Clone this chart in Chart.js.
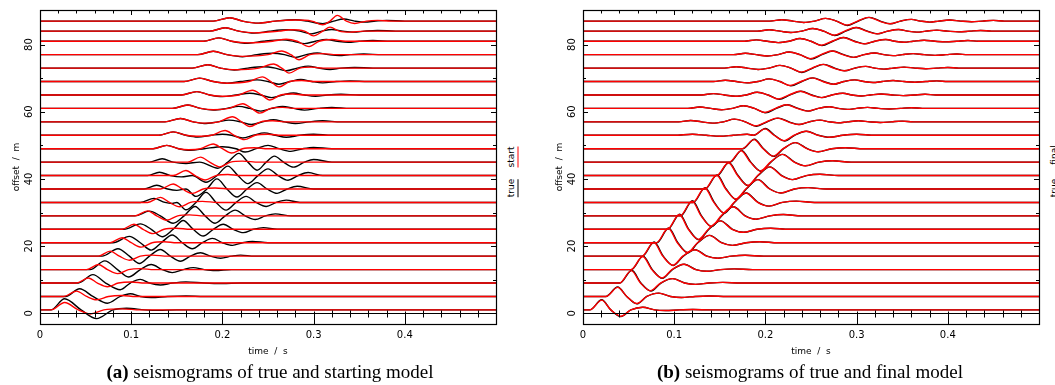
<!DOCTYPE html>
<html>
<head>
<meta charset="utf-8">
<script src="https://cdn.jsdelivr.net/npm/chart.js@4.4.0/dist/chart.umd.min.js"></script>
<style>
  body { margin: 0; background: #fff; width: 1055px; height: 385px; overflow: hidden; position: relative; }
  .panel { position: absolute; top: 0; width: 500px; height: 362px; }
  #pa { left: 0; }
  #pb { left: 543px; }
  .cap { position: absolute; top: 362px; font: 19px "Liberation Serif", serif; line-height: 19px; white-space: nowrap; transform: translateX(-50%); }
  .leg { position: absolute; font: 9px "DejaVu Sans", sans-serif; line-height: 10px; padding-bottom: 2px; transform: translate(-50%, -50%) rotate(-90deg); white-space: nowrap; }
</style>
</head>
<body>
<div class="panel" id="pa"><canvas id="ca" width="500" height="362"></canvas></div>
<div class="panel" id="pb"><canvas id="cb" width="500" height="362"></canvas></div>
<div class="leg" style="left:512px;top:157px;border-bottom:1.5px solid #f00">start</div>
<div class="leg" style="left:512px;top:188px;border-bottom:1.5px solid #000">true</div>
<div class="leg" style="left:1055px;top:155px;border-bottom:1.5px solid #f00">final</div>
<div class="leg" style="left:1055px;top:188px;border-bottom:1.5px solid #000">true</div>
<div class="cap" style="left:270px"><b>(a)</b> seismograms of true and starting model</div>
<div class="cap" style="left:810px"><b>(b)</b> seismograms of true and final model</div>
<script>
// receiver offsets (m), one trace each
const offsets = [1, 5, 9, 13, 17, 21, 25, 29, 33, 37, 41, 45, 49, 53, 57, 61, 65, 69, 73, 77, 81, 84, 87];

// key points of each trace as time (s), amplitude (m) pairs
const trueA = [
  [.012,0,.027,3.3,.045,0,.062,-2.6,.08,0,.095,.5,.115,0,.13,-.15,.15,0],
  [.028,0,.0435,2.3,.058,0,.074,-2,.088,0,.099,.8,.11,0,.122,-.3,.14,0,.16,.15,.18,0],
  [.042,0,.058,2.5,.072,0,.088,-2,.099,0,.11,1.1,.12,0,.132,-.6,.145,0,.16,.35,.18,0,.2,-.15,.22,0],
  [.055,0,.071,2.6,.085,0,.097,-2.2,.11,0,.122,1.5,.134,0,.145,-.9,.157,0,.168,.6,.18,0,.192,-.3,.21,0],
  [.068,0,.0855,2.2,.098,0,.109,-2.2,.12,0,.132,2,.143,0,.154,-1.5,.165,0,.176,1,.187,0,.198,-.6,.21,0,.22,.3,.235,0],
  [.08,0,.098,1.9,.11,0,.122,-2.2,.133,0,.145,2.3,.156,0,.167,-1.8,.178,0,.189,1.3,.2,0,.211,-.8,.222,0,.233,.4,.25,0],
  [.092,0,.11,1.6,.122,0,.134,-2.2,.146,0,.157,2.6,.168,0,.179,-2,.19,0,.201,1.5,.212,0,.223,-1,.234,0,.245,.5,.26,0],
  [.104,0,.12,1.4,.132,0,.146,-2.2,.158,0,.17,2.8,.181,0,.192,-2.2,.203,0,.214,1.7,.225,0,.236,-1.1,.247,0,.258,.6,.275,0],
  [.11,0,.125,1.2,.137,0,.145,-.3,.15,0,.16,-2.2,.171,0,.182,3,.193,0,.204,-2.3,.215,0,.226,1.8,.237,0,.248,-1.2,.259,0,.27,.7,.285,0],
  [.114,0,.128,1.1,.14,0,.15,-.4,.16,0,.171,-2.2,.183,0,.194,3,.205,0,.216,-2.4,.227,0,.238,1.9,.249,0,.26,-1.3,.271,0,.282,.8,.3,0],
  [.118,0,.131,1,.143,0,.155,-.4,.167,0,.182,-2,.194,0,.206,2.8,.217,0,.228,-2.4,.239,0,.25,2,.261,0,.272,-1.4,.283,0,.294,.9,.31,0],
  [.12,0,.134,1,.146,0,.16,-.4,.175,0,.195,-1.8,.206,0,.218,2.6,.228,0,.238,-2.4,.248,0,.257,1.8,.267,0,.278,-1.5,.29,0,.3,.8,.32,0],
  [.124,0,.139,1,.152,0,.165,-.5,.18,0,.2,.6,.215,0,.225,-1,.237,0,.25,1,.262,0,.275,-.8,.288,0,.3,.4,.32,0],
  [.13,0,.146,1,.16,0,.173,-.5,.188,0,.2,.3,.21,0,.222,-.8,.234,0,.246,.7,.258,0,.27,-.6,.285,0,.3,.3,.32,0],
  [.137,0,.154,1,.168,0,.18,-.5,.195,0,.207,.5,.22,0,.232,-.8,.244,0,.256,.6,.268,0,.28,-.5,.295,0,.31,.3,.33,0],
  [.145,0,.162,1,.176,0,.19,-.5,.205,0,.218,.6,.23,0,.242,-.8,.254,0,.266,.6,.278,0,.29,-.5,.305,0,.32,.3,.34,0],
  [.155,0,.172,1,.186,0,.2,-.5,.215,0,.23,.5,.242,0,.254,-.8,.266,0,.278,.6,.29,0,.302,-.4,.315,0,.33,.2,.35,0],
  [.158,0,.175,1,.19,0,.205,-.5,.22,0,.238,.5,.25,0,.262,-.8,.274,0,.286,.6,.298,0,.31,-.4,.325,0,.34,.2,.36,0],
  [.167,0,.184,1,.198,0,.213,-.6,.228,0,.245,.4,.258,0,.27,-.8,.282,0,.294,.6,.306,0,.318,-.4,.33,0,.345,.2,.365,0],
  [.173,0,.19,1,.205,0,.222,-.6,.238,0,.255,.4,.268,0,.28,-.8,.292,0,.304,.5,.316,0,.328,-.3,.34,0,.355,.2,.375,0],
  [.179,0,.196,1,.21,0,.228,-.6,.245,0,.265,.4,.278,0,.29,-.7,.302,0,.314,.5,.326,0,.338,-.3,.35,0,.365,.2,.385,0],
  [.186,0,.203,1,.218,0,.235,-.6,.252,0,.272,.4,.285,0,.297,-.8,.309,0,.32,.5,.332,0,.344,-.3,.356,0,.37,.2,.39,0],
  [.19,0,.208,1,.222,0,.24,-.6,.258,0,.28,.4,.293,0,.31,-.8,.322,0,.333,.6,.345,0,.356,-.3,.368,0,.38,.2,.4,0]
];
const startA = [
  [.012,0,.027,2.2,.042,0,.055,-1.2,.07,0,.09,.3,.11,0],
  [.026,0,.04,1.6,.051,0,.062,-1,.075,0,.09,.3,.105,0],
  [.04,0,.053,1.5,.063,0,.074,-1.1,.086,0,.1,.3,.115,0],
  [.051,0,.064,1.5,.074,0,.085,-1.2,.097,0,.11,.3,.125,0],
  [.064,0,.077,1.5,.087,0,.098,-1.2,.11,0,.123,.3,.14,0],
  [.077,0,.09,1.5,.1,0,.111,-1.3,.123,0,.136,.3,.15,0],
  [.09,0,.103,1.5,.113,0,.124,-1.3,.136,0,.149,.3,.165,0],
  [.104,0,.118,1.5,.128,0,.139,-1.3,.151,0,.164,.3,.18,0],
  [.118,0,.132,1.5,.142,0,.153,-1.3,.165,0,.178,.3,.195,0],
  [.132,0,.146,1.5,.156,0,.167,-1.3,.179,0,.192,.3,.21,0],
  [.146,0,.16,1.5,.17,0,.181,-1.3,.193,0,.206,.3,.22,0],
  [.162,0,.176,1.5,.186,0,.197,-1.4,.209,0,.222,.3,.24,0],
  [.124,0,.139,1,.152,0,.163,-.3,.176,0,.19,1.4,.2,0,.21,-1.3,.222,0,.235,.3,.25,0],
  [.13,0,.146,1,.16,0,.172,-.3,.188,0,.203,1.4,.213,0,.224,-1.3,.236,0,.25,.3,.265,0],
  [.137,0,.154,1,.168,0,.18,-.4,.196,0,.211,1.5,.221,0,.23,-1.4,.242,0,.255,.3,.27,0],
  [.145,0,.162,1,.176,0,.19,-.4,.207,0,.2225,1.4,.232,0,.241,-1.4,.253,0,.266,.3,.28,0],
  [.155,0,.172,1,.186,0,.2,-.4,.218,0,.233,1.4,.243,0,.252,-1.5,.264,0,.277,.3,.29,0],
  [.158,0,.175,1,.19,0,.205,-.5,.229,0,.244,1.4,.253,0,.262,-1.6,.274,0,.287,.3,.3,0],
  [.167,0,.184,1,.198,0,.214,-.5,.24,0,.256,1.2,.265,0,.273,-1.5,.285,0,.298,.3,.31,0],
  [.173,0,.19,1,.205,0,.222,-.5,.25,0,.265,1.1,.275,0,.284,-1.5,.296,0,.31,.3,.325,0],
  [.179,0,.196,1,.21,0,.228,-.5,.255,0,.27,.6,.282,0,.295,-1.6,.306,0,.32,.5,.335,0],
  [.186,0,.203,1,.218,0,.235,-.5,.262,0,.275,.4,.29,0,.3,-1.4,.31,0,.318,1.2,.328,0,.34,-.3,.355,0],
  [.19,0,.208,1,.222,0,.24,-.6,.258,0,.28,.3,.298,0,.31,-1.1,.318,0,.326,1.7,.336,0,.345,-.7,.358,0,.37,.2,.385,0]
];
const trueB = [
  [.0075,0,.0205,3,.0305,0,.0415,-2,.0525,0,.0655,.8,.0785,0,.0905,-.2,.1055,0,.1205,.1,.14,0],
  [.025,0,.038,2.8,.048,0,.059,-2.2,.07,0,.083,1,.096,0,.108,-.3,.123,0,.138,.15,.158,0],
  [.0405,0,.0535,3.8,.0635,0,.0745,-2.4,.0855,0,.0985,1.3,.1115,0,.1235,-.4,.1385,0,.1535,.2,.1735,0],
  [.053,0,.066,4,.076,0,.087,-2.6,.098,0,.111,1.6,.124,0,.136,-.5,.151,0,.166,.2,.186,0],
  [.065,0,.078,4.2,.088,0,.099,-2.8,.11,0,.123,1.9,.136,0,.148,-.6,.163,0,.178,.25,.198,0],
  [.081,0,.094,4.4,.104,0,.115,-3,.126,0,.139,2.2,.152,0,.164,-.8,.179,0,.194,.3,.214,0],
  [.093,0,.106,4.5,.116,0,.127,-3.1,.138,0,.151,2.5,.164,0,.176,-.9,.191,0,.206,.3,.226,0],
  [.107,0,.12,4.5,.13,0,.141,-3.2,.152,0,.165,2.7,.178,0,.19,-1,.205,0,.22,.4,.24,0],
  [.121,0,.134,4.4,.144,0,.155,-3.2,.166,0,.179,2.8,.192,0,.204,-1.1,.219,0,.234,.4,.254,0],
  [.134,0,.147,4.2,.157,0,.168,-3.1,.179,0,.192,2.8,.205,0,.217,-1.2,.232,0,.247,.4,.267,0],
  [.147,0,.16,3.9,.17,0,.181,-3,.192,0,.205,2.6,.218,0,.23,-1.2,.245,0,.26,.4,.28,0],
  [.161,0,.174,3.5,.184,0,.195,-2.7,.206,0,.219,2.3,.232,0,.244,-1.1,.259,0,.274,.4,.294,0],
  [.175,0,.188,2.8,.198,0,.209,-2.3,.22,0,.233,1.8,.246,0,.258,-.9,.273,0,.288,.3,.308,0],
  [.1,0,.12,.3,.135,0,.15,-.3,.165,0,.18,.3,.187,0,.2,2,.21,0,.221,-1.7,.232,0,.245,1.2,.258,0,.27,-.6,.285,0,.3,.3,.32,0],
  [.105,0,.118,.4,.13,0,.142,-.4,.154,0,.166,.8,.178,0,.19,-1.3,.202,0,.214,1.1,.226,0,.237,-.8,.248,0,.26,.5,.27,0,.28,-.3,.29,0,.302,.3,.314,0,.326,-.2,.338,0,.35,.2,.362,0],
  [.115,0,.128,.4,.14,0,.152,-.4,.164,0,.176,.8,.188,0,.2,-1.3,.212,0,.224,1.1,.236,0,.247,-.8,.258,0,.27,.5,.28,0,.29,-.3,.3,0,.312,.3,.324,0,.336,-.2,.348,0,.36,.2,.372,0],
  [.13,0,.143,.4,.155,0,.167,-.4,.179,0,.191,.8,.203,0,.215,-1.3,.227,0,.239,1.1,.251,0,.262,-.8,.273,0,.285,.5,.295,0,.305,-.3,.315,0,.327,.3,.339,0,.351,-.2,.363,0,.375,.2,.387,0],
  [.143,0,.156,.4,.168,0,.18,-.4,.192,0,.204,.8,.216,0,.228,-1.3,.24,0,.252,1.1,.264,0,.275,-.8,.286,0,.298,.5,.308,0,.318,-.3,.328,0,.34,.3,.352,0,.364,-.2,.376,0,.388,.2,.4,0],
  [.155,0,.168,.4,.18,0,.192,-.4,.204,0,.216,.8,.228,0,.24,-1.3,.252,0,.264,1.1,.276,0,.287,-.8,.298,0,.31,.5,.32,0,.33,-.3,.34,0,.352,.3,.364,0,.376,-.2,.388,0,.4,.2,.412,0],
  [.165,0,.178,.4,.19,0,.202,-.4,.214,0,.226,.8,.238,0,.25,-1.3,.262,0,.274,1.1,.286,0,.297,-.8,.308,0,.32,.5,.33,0,.34,-.3,.35,0,.362,.3,.374,0,.386,-.2,.398,0,.41,.2,.422,0],
  [.177,0,.19,.4,.202,0,.214,-.4,.226,0,.238,.8,.25,0,.262,-1.3,.274,0,.286,1.1,.298,0,.309,-.8,.32,0,.332,.5,.342,0,.352,-.3,.362,0,.374,.3,.386,0,.398,-.2,.41,0,.422,.2,.434,0],
  [.191,0,.204,.4,.216,0,.228,-.4,.24,0,.252,.8,.264,0,.276,-1.3,.288,0,.3,1.1,.312,0,.323,-.8,.334,0,.346,.5,.356,0,.366,-.3,.376,0,.388,.3,.4,0,.412,-.2,.424,0,.436,.2,.448,0],
  [.205,0,.218,.4,.23,0,.242,-.4,.254,0,.266,.8,.278,0,.29,-1.3,.302,0,.314,1.1,.326,0,.337,-.8,.348,0,.36,.5,.37,0,.38,-.3,.39,0,.402,.3,.414,0,.426,-.2,.438,0,.45,.2,.462,0]
];
const finalB = [
  [.0075,0,.0205,2.9,.0305,0,.0415,-1.9,.0525,0,.0655,.8,.0785,0,.0905,-.2,.1055,0,.1205,.1,.14,0],
  [.025,0,.038,2.7,.048,0,.059,-2.1,.07,0,.083,1,.096,0,.108,-.3,.123,0,.138,.15,.158,0],
  [.04,0,.053,3.7,.063,0,.074,-2.3,.085,0,.098,1.3,.111,0,.123,-.4,.138,0,.153,.2,.173,0],
  [.0525,0,.0655,3.9,.0755,0,.0865,-2.5,.0975,0,.1105,1.6,.1235,0,.1355,-.5,.1505,0,.1655,.2,.1855,0],
  [.0645,0,.0775,4.1,.0875,0,.0985,-2.7,.1095,0,.1225,1.9,.1355,0,.1475,-.6,.1625,0,.1775,.25,.1975,0],
  [.0805,0,.0935,4.3,.1035,0,.1145,-2.9,.1255,0,.1385,2.2,.1515,0,.1635,-.8,.1785,0,.1935,.3,.2135,0],
  [.0925,0,.1055,4.4,.1155,0,.1265,-3,.1375,0,.1505,2.5,.1635,0,.1755,-.9,.1905,0,.2055,.3,.2255,0],
  [.1065,0,.1195,4.4,.1295,0,.1405,-3.1,.1515,0,.1645,2.7,.1775,0,.1895,-1,.2045,0,.2195,.4,.2395,0],
  [.1205,0,.1335,4.3,.1435,0,.1545,-3.1,.1655,0,.1785,2.8,.1915,0,.2035,-1.1,.2185,0,.2335,.4,.2535,0],
  [.1335,0,.1465,4.1,.1565,0,.1675,-3,.1785,0,.1915,2.8,.2045,0,.2165,-1.2,.2315,0,.2465,.4,.2665,0],
  [.1465,0,.1595,3.8,.1695,0,.1805,-2.9,.1915,0,.2045,2.6,.2175,0,.2295,-1.2,.2445,0,.2595,.4,.2795,0],
  [.1605,0,.1735,3.4,.1835,0,.1945,-2.6,.2055,0,.2185,2.3,.2315,0,.2435,-1.1,.2585,0,.2735,.4,.2935,0],
  [.1745,0,.1875,2.7,.1975,0,.2085,-2.2,.2195,0,.2325,1.8,.2455,0,.2575,-.9,.2725,0,.2875,.3,.3075,0],
  [.1,0,.12,.3,.135,0,.15,-.3,.165,0,.18,.3,.187,0,.1995,1.9,.2095,0,.2205,-1.6,.2315,0,.2445,1.2,.2575,0,.27,-.6,.285,0,.3,.3,.32,0],
  [.105,0,.118,.4,.13,0,.142,-.4,.154,0,.166,.8,.178,0,.189,-1.2,.201,0,.213,1.1,.225,0,.236,-.8,.248,0,.26,.5,.27,0,.28,-.3,.29,0,.302,.3,.314,0,.326,-.2,.338,0,.35,.2,.362,0],
  [.115,0,.128,.4,.14,0,.152,-.4,.164,0,.176,.8,.188,0,.199,-1.2,.211,0,.223,1.1,.235,0,.246,-.8,.258,0,.27,.5,.28,0,.29,-.3,.3,0,.312,.3,.324,0,.336,-.2,.348,0,.36,.2,.372,0],
  [.13,0,.143,.4,.155,0,.167,-.4,.179,0,.191,.8,.203,0,.214,-1.2,.226,0,.238,1.1,.25,0,.261,-.8,.273,0,.285,.5,.295,0,.305,-.3,.315,0,.327,.3,.339,0,.351,-.2,.363,0,.375,.2,.387,0],
  [.143,0,.156,.4,.168,0,.18,-.4,.192,0,.204,.8,.216,0,.227,-1.2,.239,0,.251,1.1,.263,0,.274,-.8,.286,0,.298,.5,.308,0,.318,-.3,.328,0,.34,.3,.352,0,.364,-.2,.376,0,.388,.2,.4,0],
  [.155,0,.168,.4,.18,0,.192,-.4,.204,0,.216,.8,.228,0,.239,-1.2,.251,0,.263,1.1,.275,0,.286,-.8,.298,0,.31,.5,.32,0,.33,-.3,.34,0,.352,.3,.364,0,.376,-.2,.388,0,.4,.2,.412,0],
  [.165,0,.178,.4,.19,0,.202,-.4,.214,0,.226,.8,.238,0,.249,-1.2,.261,0,.273,1.1,.285,0,.296,-.8,.308,0,.32,.5,.33,0,.34,-.3,.35,0,.362,.3,.374,0,.386,-.2,.398,0,.41,.2,.422,0],
  [.177,0,.19,.4,.202,0,.214,-.4,.226,0,.238,.8,.25,0,.261,-1.2,.273,0,.285,1.1,.297,0,.308,-.8,.32,0,.332,.5,.342,0,.352,-.3,.362,0,.374,.3,.386,0,.398,-.2,.41,0,.422,.2,.434,0],
  [.191,0,.204,.4,.216,0,.228,-.4,.24,0,.252,.8,.264,0,.275,-1.2,.287,0,.299,1.1,.311,0,.322,-.8,.334,0,.346,.5,.356,0,.366,-.3,.376,0,.388,.3,.4,0,.412,-.2,.424,0,.436,.2,.448,0],
  [.205,0,.218,.4,.23,0,.242,-.4,.254,0,.266,.8,.278,0,.289,-1.2,.301,0,.313,1.1,.325,0,.336,-.8,.348,0,.36,.5,.37,0,.38,-.3,.39,0,.402,.3,.414,0,.426,-.2,.438,0,.45,.2,.462,0]
];

const xTicks = [0, 0.1, 0.2, 0.3, 0.4];
const xTickLabels = ['0', '0.1', '0.2', '0.3', '0.4'];
const yTicks = [0, 20, 40, 60, 80];
const yTickLabels = ['0', '20', '40', '60', '80'];

// inward tick marks, zero line and frame, placed through the scales
const frameTicks = {
  id: 'frameTicks',
  afterDatasetsDraw(chart) {
    const { ctx, chartArea: a, scales: { x, y } } = chart;
    ctx.save();
    ctx.strokeStyle = '#000';
    ctx.lineWidth = 1;
    const y0 = Math.round(y.getPixelForValue(0)) + 0.5;
    ctx.beginPath();
    ctx.moveTo(a.left, y0); ctx.lineTo(a.right, y0);
    for (let i = 1; i < 25; i++) {
      const px = Math.round(x.getPixelForValue(i * 0.02)) + 0.5;
      const major = i % 5 === 0;
      ctx.moveTo(px, a.top); ctx.lineTo(px, a.top + (major ? 5 : 3.5));
      if (major) { ctx.moveTo(px, y0 - 2); ctx.lineTo(px, a.bottom); }
      else { ctx.moveTo(px, y0 - 3); ctx.lineTo(px, y0 + 4); }
    }
    for (let v = 10; v < 90; v += 10) {
      const py = Math.round(y.getPixelForValue(v)) + 0.5;
      const len = v % 20 === 0 ? 5 : 3;
      ctx.moveTo(a.left, py); ctx.lineTo(a.left + len, py);
      ctx.moveTo(a.right, py); ctx.lineTo(a.right - len, py);
    }
    ctx.stroke();
    ctx.lineWidth = 1.2;
    ctx.strokeRect(Math.round(a.left) + 0.5, Math.round(a.top) + 0.5, Math.round(a.right - a.left), Math.round(a.bottom - a.top));
    ctx.restore();
  }
};

function traceSets(traces, color, order) {
  return traces.map((tr, k) => {
    const pts = [{ x: 0, y: offsets[k] }];
    for (let i = 0; i < tr.length; i += 2) pts.push({ x: tr[i], y: offsets[k] + tr[i + 1] });
    pts.push({ x: 0.5, y: offsets[k] });
    return { data: pts, borderColor: color, borderWidth: 1.4, order: order };
  });
}

function makeChart(id, black, red) {
  new Chart(document.getElementById(id), {
    type: 'line',
    data: { datasets: traceSets(red, '#ff0000', 0).concat(traceSets(black, '#000000', 1)) },
    options: {
      responsive: false,
      animation: false,
      parsing: false,
      layout: { padding: { top: 9, right: 4, left: 0, bottom: 0 } },
      elements: { point: { radius: 0 }, line: { cubicInterpolationMode: 'monotone', borderCapStyle: 'round' } },
      plugins: { legend: { display: false }, tooltip: { enabled: false } },
      scales: {
        x: {
          type: 'linear', min: 0, max: 0.5,
          grid: { display: false, drawTicks: false }, border: { display: false },
          afterBuildTicks: s => { s.ticks = xTicks.map(v => ({ value: v })); },
          ticks: { padding: 5, color: '#000', font: { family: 'DejaVu Sans', size: 10 }, callback: (v, i) => xTickLabels[i] },
          title: { display: true, text: 'time  /  s', color: '#000', font: { family: 'DejaVu Sans', size: 9 }, padding: { top: 0, bottom: 5 } },
          afterFit: s => { s.height = 38; }
        },
        y: {
          type: 'linear', min: -3.2, max: 90.3,
          grid: { display: false, drawTicks: false }, border: { display: false },
          afterBuildTicks: s => { s.ticks = yTicks.map(v => ({ value: v })); },
          ticks: { padding: 4, minRotation: 90, maxRotation: 90, crossAlign: 'center', color: '#000', font: { family: 'DejaVu Sans', size: 10 }, callback: (v, i) => yTickLabels[i] },
          title: { display: true, text: 'offset  /  m', color: '#000', font: { family: 'DejaVu Sans', size: 9 }, padding: { top: 11, bottom: 0 } },
          afterFit: s => { s.width = 40; }
        }
      }
    },
    plugins: [frameTicks]
  });
}

makeChart('ca', trueA, startA);
makeChart('cb', trueB, finalB);
</script>
</body>
</html>
